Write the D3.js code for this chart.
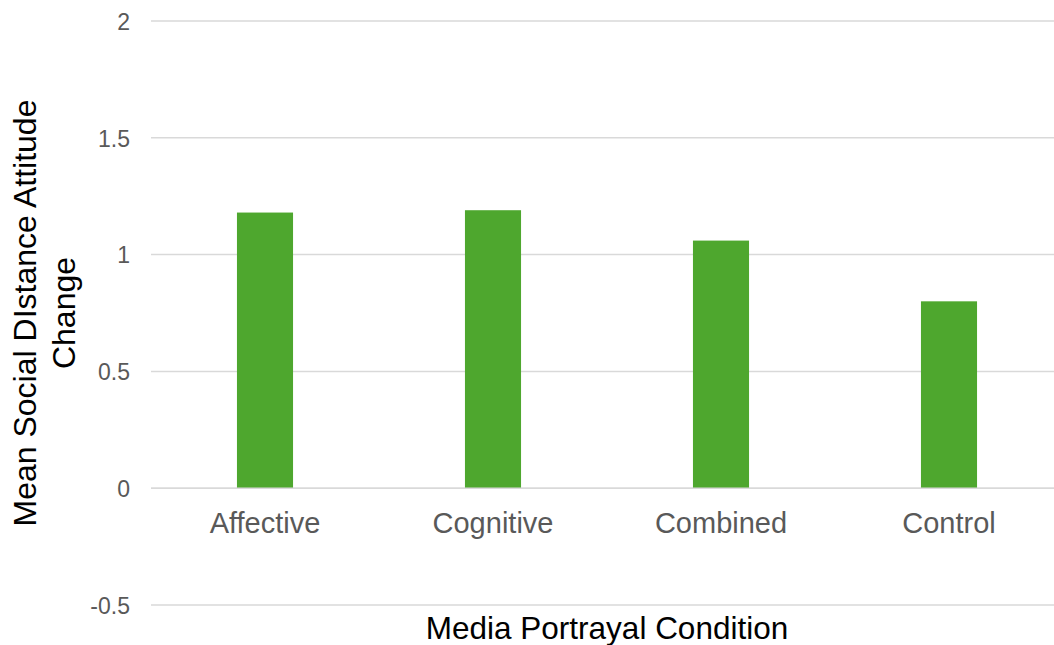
<!DOCTYPE html>
<html>
<head>
<meta charset="utf-8">
<script src="https://cdn.jsdelivr.net/npm/d3@7"></script>
<style>
  html, body { margin: 0; padding: 0; background: #fff; }
  svg { display: block; font-family: "Liberation Sans", Arial, sans-serif; }
</style>
</head>
<body>
<svg id="chart" width="1054" height="645"></svg>
<script>
// Mean change in social distance attitude by media portrayal condition
const categories = ["Affective", "Cognitive", "Combined", "Control"];
const meanChange = [1.18, 1.19, 1.06, 0.80];
const yTicks = [-0.5, 0, 0.5, 1, 1.5, 2];
const yTickLabels = ["-0.5", "0", "0.5", "1", "1.5", "2"];

const svg = d3.select("#chart");

const x = d3.scaleBand()
  .domain(categories)
  .range([151, 1063])
  .paddingInner(0.754)
  .paddingOuter(0.377);

const y = d3.scaleLinear()
  .domain([-0.5, 2])
  .range([605, 21]);

// Horizontal gridlines
svg.append("g")
  .selectAll("line")
  .data(yTicks)
  .join("line")
  .attr("x1", 151)
  .attr("x2", 1054)
  .attr("y1", d => y(d))
  .attr("y2", d => y(d))
  .attr("stroke", "#d9d9d9")
  .attr("stroke-width", 1.5);

// Value axis labels
const yAxis = d3.axisLeft(y)
  .tickValues(yTicks)
  .tickFormat((d, i) => yTickLabels[i])
  .tickSize(0)
  .tickPadding(0);

svg.append("g")
  .attr("transform", "translate(130,0)")
  .call(yAxis)
  .call(g => g.select(".domain").remove())
  .call(g => g.selectAll("text")
    .attr("fill", "#595959")
    .attr("font-size", 23)
    .attr("font-family", "Liberation Sans, Arial, sans-serif")
    .attr("dy", "0.36em"));

// Bars
svg.append("g")
  .selectAll("rect")
  .data(categories.map((c, i) => ({ c, v: meanChange[i] })))
  .join("rect")
  .attr("x", d => x(d.c))
  .attr("width", x.bandwidth())
  .attr("y", d => y(Math.max(0, d.v)))
  .attr("height", d => Math.abs(y(d.v) - y(0)))
  .attr("fill", "#4ea72e");

// Zero baseline drawn over the bars' bottoms
svg.append("line")
  .attr("x1", 151).attr("x2", 1054)
  .attr("y1", y(0)).attr("y2", y(0))
  .attr("stroke", "#d9d9d9")
  .attr("stroke-width", 1.5);

// Category labels
const xAxis = d3.axisBottom(x).tickSize(0).tickPadding(0);
svg.append("g")
  .attr("transform", "translate(0,533)")
  .call(xAxis)
  .call(g => g.select(".domain").remove())
  .call(g => g.selectAll("text")
    .attr("fill", "#595959")
    .attr("font-size", 29)
    .attr("font-family", "Liberation Sans, Arial, sans-serif")
    .attr("dy", 0)
    .attr("y", 0));

// Axis titles
svg.append("text")
  .attr("x", 607)
  .attr("y", 639)
  .attr("text-anchor", "middle")
  .attr("font-size", 31.5)
  .attr("fill", "#000")
  .text("Media Portrayal Condition");

const yTitle = svg.append("text")
  .attr("transform", "translate(36,313) rotate(-90)")
  .attr("text-anchor", "middle")
  .attr("font-size", 32)
  .attr("fill", "#000");
yTitle.append("tspan").attr("x", 0).attr("y", 0).text("Mean Social DIstance Attitude");
yTitle.append("tspan").attr("x", 0).attr("y", 39).text("Change");
</script>
</body>
</html>
